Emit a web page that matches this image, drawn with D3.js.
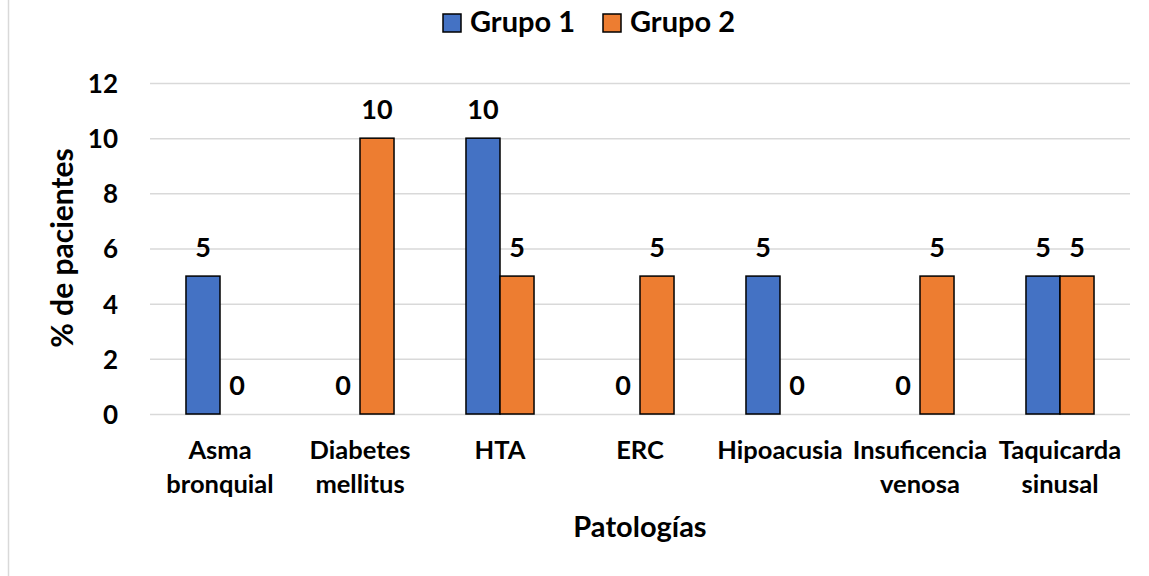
<!DOCTYPE html>
<html>
<head>
<meta charset="utf-8">
<script src="https://cdn.jsdelivr.net/npm/d3@7"></script>
<style>
  body { margin: 0; background: #fff; }
  svg { display: block; }
  text { font-family: Lato, "Open Sans", sans-serif; font-weight: bold; fill: #000; }
</style>
</head>
<body>
<svg id="chart"></svg>
<script>
// chart data
const categories = [
  ["Asma", "bronquial"],
  ["Diabetes", "mellitus"],
  ["HTA"],
  ["ERC"],
  ["Hipoacusia"],
  ["Insuficencia", "venosa"],
  ["Taquicarda", "sinusal"]
];
const seriesNames = ["Grupo 1", "Grupo 2"];
const grupo1 = [5, 0, 10, 0, 5, 0, 5];
const grupo2 = [0, 10, 5, 5, 0, 5, 5];
const yTicks = [0, 2, 4, 6, 8, 10, 12];
const colors = ["#4472C4", "#ED7D31"];

const width = 1149, height = 576;
const margin = {top: 83, right: 19, bottom: 162, left: 150};
const innerW = width - margin.left - margin.right;
const innerH = height - margin.top - margin.bottom;

const svg = d3.select("#chart")
    .attr("width", width)
    .attr("height", height);

// left border of the chart area
svg.append("line")
    .attr("x1", 8.5).attr("x2", 8.5)
    .attr("y1", 0).attr("y2", height)
    .attr("stroke", "#d9d9d9")
    .attr("stroke-width", 1.5);

const chart = svg.append("g")
    .attr("transform", `translate(${margin.left},${margin.top})`);

const keys = categories.map((c, i) => i);
const x0 = d3.scaleBand().domain(keys).range([0, innerW]).paddingInner(0.514).paddingOuter(0.257);
const x1 = d3.scaleBand().domain([0, 1]).range([0, x0.bandwidth()]);
const y = d3.scaleLinear().domain([0, 12]).range([innerH, 0]);

// gridlines + tick labels
const yAxis = d3.axisLeft(y)
    .tickValues(yTicks)
    .tickSize(-innerW)
    .tickPadding(32);

chart.append("g")
    .attr("class", "y-axis")
    .call(yAxis)
    .call(g => g.select(".domain").remove())
    .call(g => g.selectAll(".tick line").attr("stroke", "#d9d9d9").attr("stroke-width", 1.5))
    .call(g => g.selectAll(".tick text")
        .style("font-size", "26px")
        .attr("dy", "0.36em"));

// bars
const rows = keys.map(i => [grupo1[i], grupo2[i]]);
const groups = chart.selectAll(".grp")
    .data(rows)
  .join("g")
    .attr("class", "grp")
    .attr("transform", (d, i) => `translate(${x0(i)},0)`);

groups.selectAll("rect")
    .data(d => d.map((v, s) => ({v, s})))
  .join("rect")
    .filter(d => d.v > 0)
    .attr("x", d => x1(d.s))
    .attr("y", d => y(d.v))
    .attr("width", x1.bandwidth())
    .attr("height", d => y(0) - y(d.v))
    .attr("fill", d => colors[d.s])
    .attr("stroke", "#000")
    .attr("stroke-width", 1.5);

// data labels
groups.selectAll(".lbl")
    .data(d => d.map((v, s) => ({v, s})))
  .join("text")
    .attr("class", "lbl")
    .attr("x", d => x1(d.s) + x1.bandwidth() / 2)
    .attr("y", d => y(d.v) - 19)
    .attr("text-anchor", "middle")
    .style("font-size", "27px")
    .text(d => d.v);

// category labels
const catG = chart.append("g")
    .attr("transform", `translate(0,${innerH})`);
categories.forEach((lines, i) => {
  const t = catG.append("text")
      .attr("x", x0(i) + x0.bandwidth() / 2)
      .attr("y", 45)
      .attr("text-anchor", "middle")
      .style("font-size", "25.5px");
  lines.forEach((l, j) => {
    t.append("tspan")
        .attr("x", x0(i) + x0.bandwidth() / 2)
        .attr("dy", j === 0 ? 0 : 34)
        .text(l);
  });
});

// axis titles
svg.append("text")
    .attr("x", 640)
    .attr("y", 537)
    .attr("text-anchor", "middle")
    .style("font-size", "29px")
    .text("Patologías");

svg.append("text")
    .attr("transform", "translate(73,248) rotate(-90)")
    .attr("text-anchor", "middle")
    .style("font-size", "30px")
    .text("% de pacientes");

// legend
const legend = svg.append("g").attr("class", "legend");
const legendX = [443, 603];
seriesNames.forEach((name, i) => {
  legend.append("rect")
      .attr("x", legendX[i])
      .attr("y", 14)
      .attr("width", 18)
      .attr("height", 18)
      .attr("fill", colors[i])
      .attr("stroke", "#000")
      .attr("stroke-width", 1.5);
  legend.append("text")
      .attr("x", legendX[i] + 27)
      .attr("y", 32)
      .style("font-size", "29px")
      .text(name);
});
</script>
</body>
</html>
